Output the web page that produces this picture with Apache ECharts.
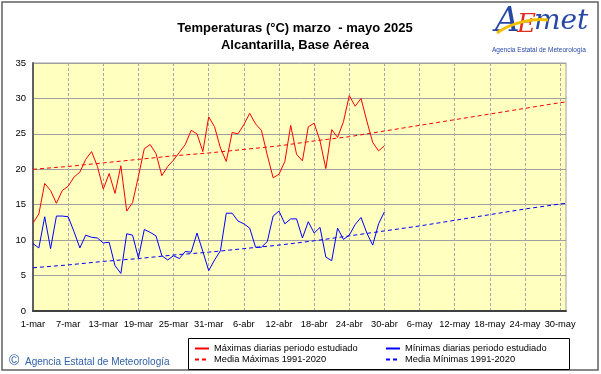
<!DOCTYPE html>
<html><head><meta charset="utf-8">
<script src="https://cdn.jsdelivr.net/npm/echarts@6/dist/echarts.min.js"></script>
<style>html,body{margin:0;padding:0;background:#fff}#c{width:601px;height:374px}</style>
</head><body><div id="c"></div>
<script>
// Categories: 1-mar .. 31-may
const months = [["mar",31],["abr",30],["may",31]];
const categories = [];
months.forEach(([m,n])=>{for(let d=1;d<=n;d++)categories.push(d+"-"+m);});

// Daily max temperatures (1-mar .. 30-abr)
const maxT = [12.4,13.7,18.0,17.0,15.2,17.0,17.6,18.9,19.6,21.4,
  22.5,20.4,17.2,19.4,16.6,20.5,14.1,15.3,19.0,22.9,
  23.5,22.2,19.1,20.4,21.3,22.4,23.5,25.5,25.0,22.5,
  27.4,26.0,23.0,21.1,25.2,25.0,26.3,27.9,26.4,25.5,
  22.0,18.8,19.3,21.1,26.2,22.1,21.2,26.0,26.5,24.0,
  20.1,25.6,24.5,26.7,30.4,28.9,30.0,26.8,23.8,22.6,23.3];
// Daily min temperatures (1-mar .. 30-abr)
const minT = [9.5,8.9,13.3,8.8,13.4,13.4,13.3,11.2,8.9,10.7,
  10.4,10.3,9.6,9.7,6.4,5.3,10.9,10.7,7.5,11.5,
  11.1,10.6,7.8,7.2,7.8,7.4,8.4,8.3,11.0,8.4,
  5.7,7.2,8.5,13.8,13.8,12.7,12.3,11.7,9.0,9.0,
  9.8,13.4,14.1,12.3,13.0,13.0,10.3,12.6,11.0,11.8,
  7.6,7.1,11.7,10.1,10.7,12.2,13.2,11.0,9.3,12.3,14.0];
// Climatological means 1991-2020, read at these category indices
const climIdx = [0,6,12,18,24,30,36,42,48,54,60,66,72,78,84,90,91];
const climMax = [20.0,20.4,20.9,21.4,21.9,22.3,22.8,23.3,24.0,24.6,25.4,26.2,27.0,27.8,28.6,29.4,29.5];
const climMin = [6.1,6.5,7.0,7.4,7.9,8.3,8.8,9.3,9.9,10.6,11.3,12.0,12.8,13.6,14.4,15.1,15.2];
const yTicks = [0,5,10,15,20,25,30,35];

const names = ["Máximas diarias periodo estudiado","Mínimas diarias periodo estudiado",
  "Media Máximas 1991-2020","Media Mínimas 1991-2020"];
const FONT = "Arial, 'Liberation Sans', sans-serif";

const legendCommon = {top:344,orient:'vertical',padding:0,itemGap:2,itemWidth:14,itemHeight:9,
  itemStyle:{opacity:0},textStyle:{fontSize:9.3,color:'#000',fontFamily:FONT}};

const chart = echarts.init(document.getElementById('c'));
chart.setOption({
  animation:false,
  backgroundColor:'#fff',
  textStyle:{fontFamily:FONT},
  title:{text:"Temperaturas (°C) marzo  - mayo 2025\nAlcantarilla, Base Aérea",left:290,textAlign:'center',top:15,
    textStyle:{fontSize:13,fontWeight:'bold',color:'#000',lineHeight:17,fontFamily:FONT}},
  grid:{left:33,right:35,top:63,bottom:63,show:true,backgroundColor:'#ffffc0',borderColor:'#a0a0a0',borderWidth:1},
  xAxis:{type:'category',data:categories,boundaryGap:false,
    axisLine:{lineStyle:{color:'#404040',width:2}},
    axisTick:{show:false},
    axisLabel:{interval:5,color:'#000',fontSize:9.3,margin:9,fontFamily:FONT},
    splitLine:{show:true,interval:5,lineStyle:{color:'#a8a8a8',type:[3,2],width:1}}},
  yAxis:{type:'value',min:yTicks[0],max:yTicks[yTicks.length-1],interval:5,
    axisLine:{show:true,lineStyle:{color:'#606060',width:2}},
    axisTick:{show:false},
    axisLabel:{color:'#000',fontSize:9.5,margin:7,fontFamily:FONT},
    splitLine:{show:true,lineStyle:{color:'#a0a0a0',width:1}}},
  legend:[
    Object.assign({left:194,data:[names[0],names[2]]},legendCommon),
    Object.assign({left:385,data:[names[1],names[3]]},legendCommon)
  ],
  graphic:[
    {type:'rect',shape:{x:2,y:2,width:596,height:368},style:{fill:'none',stroke:'#606060',lineWidth:1.5},silent:true,z:-1},
    {type:'rect',shape:{x:188.5,y:338.5,width:381,height:31},style:{fill:'#fff',stroke:'#000',lineWidth:1},z:-1},
    {type:'text',left:9,top:354,style:{text:"©",font:"14px "+FONT,fill:'#3060a8'}},
    {type:'text',left:25,top:357,style:{text:"Agencia Estatal de Meteorología",font:"10px "+FONT,fill:'#3060a8'}},
    // AEMET logo
    {type:'text',left:495,top:5,style:{text:"A",font:"italic 34px 'DejaVu Serif', serif",fill:'#2848a8'}},
    {type:'text',left:517,top:12,style:{text:"E",font:"italic 26px 'DejaVu Serif', serif",fill:'#e03020'}},
    {type:'text',left:534,top:8,style:{text:"met",font:"italic 28px 'DejaVu Serif', serif",fill:'#2848a8'}},
    {type:'bezierCurve',shape:{x1:497,y1:33,cpx1:512,cpy1:22,cpx2:535,cpy2:18,x2:548,y2:20},style:{stroke:'#f0c000',lineWidth:3,fill:'none'}},
    {type:'text',left:492,top:47,style:{text:"Agencia Estatal de Meteorología",font:"6.5px "+FONT,fill:'#2848a8'}}
  ],
  series:[
    {name:names[0],type:'line',data:maxT,symbol:'none',lineStyle:{color:'#ff0000',width:1},itemStyle:{color:'#ff0000'},z:5},
    {name:names[1],type:'line',data:minT,symbol:'none',lineStyle:{color:'#0000ff',width:1},itemStyle:{color:'#0000ff'},z:5},
    {name:names[2],type:'line',data:climIdx.map((d,i)=>[d,climMax[i]]),symbol:'none',
      lineStyle:{color:'#ff0000',width:1,type:[4,3]},itemStyle:{color:'#ff0000'},z:4},
    {name:names[3],type:'line',data:climIdx.map((d,i)=>[d,climMin[i]]),symbol:'none',
      lineStyle:{color:'#0000ff',width:1,type:[4,3]},itemStyle:{color:'#0000ff'},z:4}
  ]
});
</script></body></html>
